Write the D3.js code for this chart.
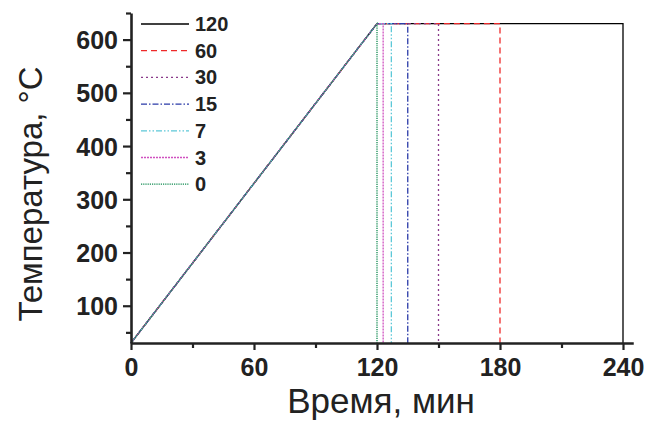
<!DOCTYPE html>
<html>
<head>
<meta charset="utf-8">
<script src="https://cdn.jsdelivr.net/npm/d3@7"></script>
<style>
  body { margin: 0; background: #fff; }
  svg { display: block; }
  .tick text { font-family: "Liberation Sans", Arial, sans-serif; font-weight: bold; fill: #222; }
</style>
</head>
<body>
<svg id="chart" width="646" height="423"></svg>
<script>
// hold times (min) for each curve, legend order
var holds = [120, 60, 30, 15, 7, 3, 0];
var holdColors = ['#000000', '#ee2a2a', '#8a3a8a', '#2a3aa8', '#5cc8d8', '#d050c0', '#108a50'];
var holdDash = ['none', '6,4', '2,3', '6,2,1.5,2', '6,2,1.5,2,1.5,2', '2,1', '1.2,1'];
// ramp: start temperature, end of ramp time, plateau temperature
var startTemp = 30;
var rampEnd = 120;
var plateauTemp = 630;
var xTicks = [0, 60, 120, 180, 240];
var xMinor = [30, 90, 150, 210];
var yTicks = [100, 200, 300, 400, 500, 600];
var yMinor = [50, 150, 250, 350, 450, 550, 650];

var svg = d3.select("#chart");

var x = d3.scaleLinear().domain([0, 245]).range([131, 633.25]);
var y = d3.scaleLinear().domain([30, 650]).range([343, 13]);

var makeSeries = function(h) {
  return [[0, startTemp], [rampEnd, plateauTemp], [rampEnd + h, plateauTemp], [rampEnd + h, startTemp]];
};

var line = d3.line().x(function(d) { return x(d[0]); }).y(function(d) { return y(d[1]); });

// draw curves (longest first so short-hold curves lie on top)
for (var i = 0; i < holds.length; i++) {
  svg.append("path")
    .datum(makeSeries(holds[i]))
    .attr("d", line)
    .attr("fill", "none")
    .attr("stroke", holdColors[i])
    .attr("stroke-width", 1.3)
    .attr("stroke-dasharray", holdDash[i]);
}

// axes
var gx = svg.append("g").attr("transform", "translate(0," + y(30) + ")")
  .call(d3.axisBottom(x).tickValues(xTicks).tickSize(7).tickSizeOuter(0).tickPadding(8));
gx.selectAll(".tick text").style("font-size", "25px");
svg.append("g").attr("transform", "translate(0," + y(30) + ")")
  .call(d3.axisBottom(x).tickValues(xMinor).tickSize(5).tickSizeOuter(0).tickFormat(""))
  .select(".domain").remove();

var gy = svg.append("g").attr("transform", "translate(" + x(0) + ",0)")
  .call(d3.axisLeft(y).tickValues(yTicks).tickSize(8).tickSizeOuter(0).tickPadding(5));
gy.selectAll(".tick text").style("font-size", "25px").attr("dy", "0.36em");
svg.append("g").attr("transform", "translate(" + x(0) + ",0)")
  .call(d3.axisLeft(y).tickValues(yMinor).tickSize(5).tickSizeOuter(0).tickFormat(""))
  .select(".domain").remove();

svg.selectAll(".domain").attr("stroke", "#222").attr("stroke-width", 2.6);
svg.selectAll(".tick line").attr("stroke", "#222").attr("stroke-width", 2.2);

// axis titles
svg.append("text")
  .attr("x", 381).attr("y", 413)
  .attr("text-anchor", "middle")
  .style("font-family", "Liberation Sans, Arial, sans-serif")
  .style("font-size", "35px")
  .attr("fill", "#222")
  .text("Время, мин");

svg.append("text")
  .attr("transform", "translate(42,194) rotate(-90)")
  .attr("text-anchor", "middle")
  .style("font-family", "Liberation Sans, Arial, sans-serif")
  .style("font-size", "33px")
  .attr("fill", "#222")
  .text("Температура, °C");

// legend
var legend = svg.append("g");
for (var k = 0; k < holds.length; k++) {
  var ly = 24 + k * 26.7;
  legend.append("line")
    .attr("x1", 141).attr("x2", 189).attr("y1", ly).attr("y2", ly)
    .attr("stroke", holdColors[k])
    .attr("stroke-width", 1.3)
    .attr("stroke-dasharray", holdDash[k]);
  legend.append("text")
    .attr("x", 195).attr("y", ly + 7)
    .style("font-family", "Liberation Sans, Arial, sans-serif")
    .style("font-weight", "bold")
    .style("font-size", "20px")
    .attr("fill", "#222")
    .text("" + holds[k]);
}
</script>
</body>
</html>
